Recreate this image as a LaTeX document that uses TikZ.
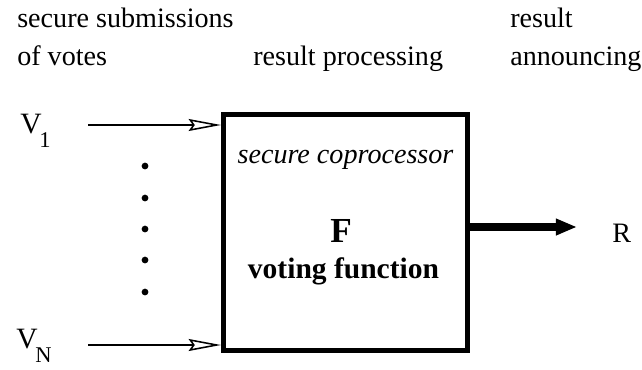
\documentclass[tikz,border=0pt]{standalone}
\usepackage{fontspec}
\setmainfont{Liberation Serif}
\usetikzlibrary{arrows.meta}
\newcommand{\lowsub}[1]{\kern-1.5pt\raisebox{-10pt}{\fontsize{16}{18}\selectfont #1}}

\begin{document}
\begin{tikzpicture}[x=0.025cm, y=-0.025cm,
		txt/.style={inner sep=0pt, font=\fontsize{20}{24}\selectfont},
		votearrow/.style={line width=1.1pt, -{Stealth[open, length=23pt, width=8.5pt, inset=3pt]}},
		resultarrow/.style={line width=6pt, -{Triangle[length=15pt, width=11pt]}}]
			%%%%% START %%%%%
			\useasboundingbox (0, 0) rectangle (642, 369);
			
			\node[txt, anchor=base west] (subm) at (17, 27) {secure submissions};
			\node[txt, anchor=base west] (votes) at (17, 65) {of votes};
			\node[txt, anchor=base west] (proc) at (253, 65) {result processing};
			\node[txt, anchor=base west] (res) at (510, 27) {result};
			\node[txt, anchor=base west] (ann) at (510, 65) {announcing};
			
			\node[draw, line width=3.5pt, minimum width=6.1cm, minimum height=5.9cm, inner sep=0pt] (copro) at (345.5, 232.5) {};
			\node[txt, anchor=base, font=\fontsize{20}{24}\selectfont\itshape] (secco) at (345.5, 163) {secure coprocessor};
			\node[txt, anchor=base, font=\fontsize{25}{30}\selectfont\bfseries] (func) at (341, 242) {F};
			\node[txt, anchor=base, font=\fontsize{21}{25}\selectfont\bfseries] (vfunc) at (343.5, 278) {voting function};
			
			\node[txt, anchor=base west, font=\fontsize{21}{25}\selectfont] (v1) at (20, 133) {V\lowsub{1}};
			\node[txt, anchor=base west, font=\fontsize{21}{25}\selectfont] (vn) at (16, 348) {V\lowsub{N}};
			\coordinate (in1) at (88, 125);
			\coordinate (inn) at (88, 345);
			\draw[votearrow] (in1) -- (copro.west |- in1);
			\draw[votearrow] (inn) -- (copro.west |- inn);
			
			\foreach \y in {166, 198, 229, 260, 292}
				\fill (145, \y) circle (2.4pt);
			
			\coordinate (out) at (577, 227);
			\draw[resultarrow] (copro.east |- out) -- (out);
			\node[txt, anchor=base west] (r) at (612, 242) {R};
			%%%%% END %%%%%
		\end{tikzpicture}
\end{document}
